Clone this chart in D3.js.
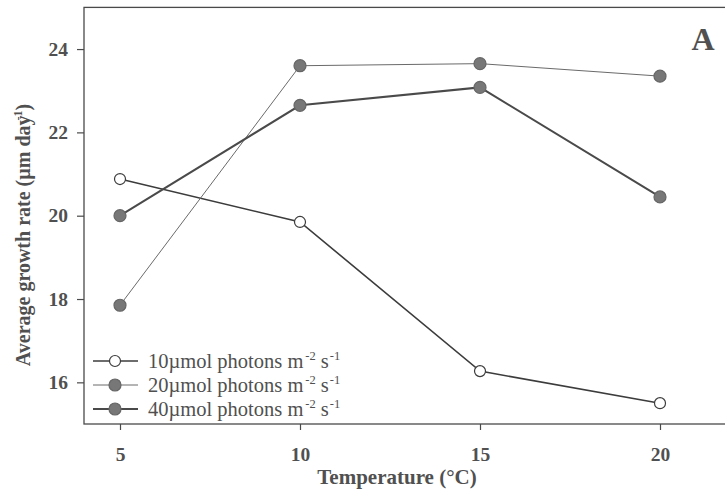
<!DOCTYPE html>
<html>
<head>
<meta charset="utf-8">
<script src="https://cdn.jsdelivr.net/npm/d3@7"></script>
<style>
  body { margin: 0; background: #fff; }
  svg { display: block; }
  text { font-family: "Liberation Serif", "Times New Roman", serif; }
</style>
</head>
<body>
<div id="app"></div>
<script>
// data
const temps = [5, 10, 15, 20]
const low = [20.88, 19.85, 16.27, 15.5]      // 10 umol photons
const mid = [17.85, 23.6, 23.65, 23.35]      // 20 umol photons
const high = [20.0, 22.65, 23.08, 20.45]     // 40 umol photons
const seriesNames = ['10µmol photons m', '20µmol photons m', '40µmol photons m']
const xTicks = [5, 10, 15, 20]
const yTicks = [16, 18, 20, 22, 24]

const W = 725, H = 491
const ink = '#4a4a4a'

const series = [
  {name: seriesNames[0], values: low, open: true, lw: 1.6, stroke: '#3c3c3c'},
  {name: seriesNames[1], values: mid, open: false, lw: 1, stroke: '#6a6a6a'},
  {name: seriesNames[2], values: high, open: false, lw: 2, stroke: '#4a4a4a'}
]

const x = d3.scaleLinear().domain([4, 22]).range([84, 732])
const y = d3.scaleLinear().domain([15, 25]).range([424, 7.4])

const svg = d3.select('#app').append('svg')
  .attr('width', W).attr('height', H)

// frame
svg.append('rect')
  .attr('x', x(4)).attr('y', y(25))
  .attr('width', x(22) - x(4)).attr('height', y(15) - y(25))
  .attr('fill', 'none').attr('stroke', ink).attr('stroke-width', 1.3)

const xAxis = svg.append('g')
  .attr('transform', 'translate(0,' + y(15) + ')')
  .call(d3.axisBottom(x).tickValues(xTicks).tickSize(6).tickPadding(17).tickFormat(d3.format('d')))
xAxis.select('.domain').remove()

const yAxis = svg.append('g')
  .attr('transform', 'translate(' + x(4) + ',0)')
  .call(d3.axisLeft(y).tickValues(yTicks).tickSize(7).tickPadding(9).tickFormat(d3.format('d')))
yAxis.select('.domain').remove()

svg.selectAll('.tick line').attr('stroke', ink).attr('stroke-width', 1.2)
svg.selectAll('.tick text')
  .attr('fill', '#505050')
  .style('font-family', '"Liberation Serif", serif')
  .style('font-weight', 'bold')
  .style('font-size', '19.5px')

// axis titles
svg.append('text')
  .attr('x', 397).attr('y', 484)
  .attr('text-anchor', 'middle')
  .attr('fill', '#505050')
  .style('font-weight', 'bold').style('font-size', '21px')
  .text('Temperature (°C)')

const yt = svg.append('text')
  .attr('transform', 'translate(30,235) rotate(-90)')
  .attr('text-anchor', 'middle')
  .attr('fill', '#505050')
  .style('font-weight', 'bold').style('font-size', '20px')
yt.append('tspan').text('Average growth rate (µm day')
yt.append('tspan').attr('dy', -8).attr('dx', -5).style('font-size', '12px').text('-1')
yt.append('tspan').attr('dy', 8).text(')')

// panel letter
svg.append('text')
  .attr('x', 703).attr('y', 50)
  .attr('text-anchor', 'middle')
  .attr('fill', '#505050')
  .style('font-weight', 'bold').style('font-size', '32px')
  .text('A')

// lines and markers
const line = d3.line().x((d, i) => x(temps[i])).y(d => y(d))

const g = svg.selectAll('.series').data(series).enter().append('g')

g.append('path')
  .attr('d', d => line(d.values))
  .attr('fill', 'none')
  .attr('stroke', d => d.stroke)
  .attr('stroke-width', d => d.lw)

g.selectAll('circle')
  .data(d => d.values.map(v => ({v, s: d})))
  .enter().append('circle')
  .attr('cx', (d, i) => x(temps[i]))
  .attr('cy', d => y(d.v))
  .attr('r', d => d.s.open ? 5.5 : 6)
  .attr('fill', d => d.s.open ? '#fff' : '#777')
  .attr('stroke', d => d.s.open ? '#3c3c3c' : '#666')
  .attr('stroke-width', 1.2)

// legend
const legY = [361, 385, 409]
const lg = svg.selectAll('.leg').data(series).enter().append('g')
  .attr('transform', (d, i) => 'translate(0,' + legY[i] + ')')

lg.append('line')
  .attr('x1', 93).attr('x2', 138)
  .attr('stroke', d => d.stroke).attr('stroke-width', d => d.lw)
lg.append('circle')
  .attr('cx', 115).attr('r', d => d.open ? 5.5 : 6)
  .attr('fill', d => d.open ? '#fff' : '#777')
  .attr('stroke', d => d.open ? '#3c3c3c' : '#666')
  .attr('stroke-width', 1.2)

const lt = lg.append('text')
  .attr('x', 148).attr('y', 7)
  .attr('fill', '#505050')
  .style('font-size', '20.5px')
lt.append('tspan').text(d => d.name)
lt.append('tspan').attr('dy', -8).attr('dx', 2).style('font-size', '12.5px').text('-2')
lt.append('tspan').attr('dy', 8).attr('dx', 5).text('s')
lt.append('tspan').attr('dy', -8).attr('dx', 1).style('font-size', '12.5px').text('-1')
</script>
</body>
</html>
